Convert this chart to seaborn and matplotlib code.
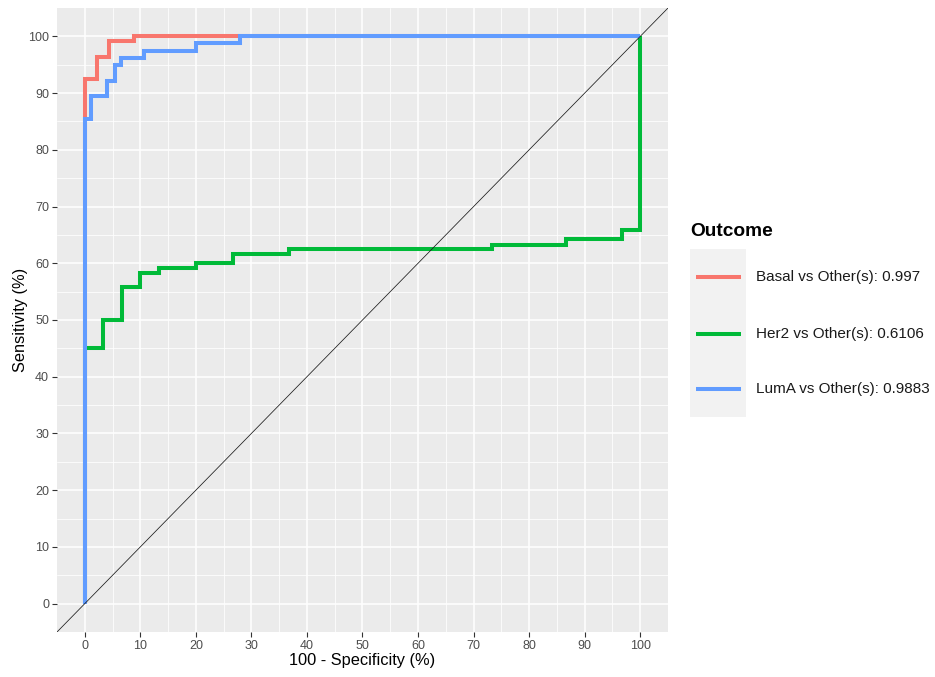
import matplotlib
matplotlib.use("Agg")
import matplotlib.pyplot as plt
import numpy as np
import pandas as pd
import seaborn as sns
from matplotlib.lines import Line2D
from matplotlib.patches import Rectangle
from matplotlib.ticker import FixedLocator

# ROC curve vertices (100 - specificity, sensitivity), in percent
basal_fpr = [0, 0, 2.2, 2.2, 4.4, 4.4, 8.9, 8.9, 100]
basal_tpr = [0, 92.5, 92.5, 96.3, 96.3, 99.2, 99.2, 100, 100]

her2_fpr = [0, 0, 3.3, 3.3, 6.7, 6.7, 10.0, 10.0, 13.3, 13.3, 20.0, 20.0,
            26.7, 26.7, 36.7, 36.7, 73.3, 73.3, 86.7, 86.7, 96.7, 96.7, 100, 100]
her2_tpr = [0, 45.0, 45.0, 50.0, 50.0, 55.8, 55.8, 58.3, 58.3, 59.2, 59.2, 60.0,
            60.0, 61.7, 61.7, 62.5, 62.5, 63.3, 63.3, 64.2, 64.2, 65.8, 65.8, 100]

luma_fpr = [0, 0, 1.2, 1.2, 4.0, 4.0, 5.4, 5.4, 6.6, 6.6, 10.7, 10.7,
            20.1, 20.1, 28.0, 28.0, 100]
luma_tpr = [0, 85.5, 85.5, 89.4, 89.4, 92.1, 92.1, 94.9, 94.9, 96.2, 96.2, 97.5,
            97.5, 98.8, 98.8, 100, 100]

outcomes = ["Basal vs Other(s): 0.997",
            "Her2 vs Other(s): 0.6106",
            "LumA vs Other(s): 0.9883"]
colors = ["#F8766D", "#00BA38", "#619CFF"]

x_ticks = list(range(0, 101, 10))
y_ticks = list(range(0, 101, 10))

frames = []
for name, fx, ty in zip(outcomes, [basal_fpr, her2_fpr, luma_fpr],
                        [basal_tpr, her2_tpr, luma_tpr]):
    frames.append(pd.DataFrame({"fpr": fx, "tpr": ty, "Outcome": name}))
df = pd.concat(frames, ignore_index=True)

sns.set_theme(style="darkgrid")
plt.rcParams["font.family"] = ["Liberation Sans", "DejaVu Sans"]

W, H = 935, 677
fig = plt.figure(figsize=(W / 100, H / 100), dpi=100)
ax = fig.add_axes([57 / W, 1 - 632 / H, 611 / W, 624 / H])
ax.set_facecolor("#EBEBEB")

sns.lineplot(data=df, x="fpr", y="tpr", hue="Outcome", hue_order=outcomes,
             palette=colors, sort=False, estimator=None, linewidth=2.9,
             legend=False, ax=ax)
for ln in ax.lines:
    ln.set_solid_capstyle("butt")
    ln.set_solid_joinstyle("miter")

# chance diagonal
ax.axline((0, 0), (100, 100), color="#1A1A1A", lw=0.55, zorder=3)

ax.set_xlim(-5, 105)
ax.set_ylim(-5, 105)
ax.xaxis.set_major_locator(FixedLocator(x_ticks))
ax.yaxis.set_major_locator(FixedLocator(y_ticks))
ax.xaxis.set_minor_locator(FixedLocator([t + 5 for t in x_ticks[:-1]]))
ax.yaxis.set_minor_locator(FixedLocator([t + 5 for t in y_ticks[:-1]]))
ax.grid(which="major", color="white", lw=1.1)
ax.grid(which="minor", color="white", lw=0.55)
ax.set_axisbelow(True)
for s in ax.spines.values():
    s.set_visible(False)

ax.tick_params(which="major", length=3.5, width=0.8, color="#333333",
               labelsize=9, labelcolor="#4D4D4D", pad=2.2, bottom=True, left=True)
ax.tick_params(which="minor", length=0)

ax.set_xlabel("100 - Specificity (%)", fontsize=11.8, color="black", va="center")
ax.set_ylabel("Sensitivity (%)", fontsize=11.8, color="black", va="center")
ax.xaxis.set_label_coords((362 - 57) / 611, (632 - 661) / 624)
ax.yaxis.set_label_coords((20 - 57) / 611, 0.5)

# legend
fig.text(690 / W, 1 - 232 / H, "Outcome", fontsize=13.8, fontweight="bold",
         ha="left", va="center", color="black")
fig.add_artist(Rectangle((690 / W, 1 - 417 / H), 56 / W, 168 / H,
                         transform=fig.transFigure, facecolor="#F2F2F2",
                         edgecolor="none"))
for yk, name, c in zip([277, 334, 389], outcomes, colors):
    fig.add_artist(Line2D([696 / W, 741 / W], [1 - yk / H, 1 - yk / H],
                          transform=fig.transFigure, color=c, lw=2.9,
                          solid_capstyle="butt"))
    fig.text(756 / W, 1 - yk / H, name, fontsize=11, ha="left", va="center",
             color="#1A1A1A")

fig.savefig("out.png", dpi=100, facecolor="white")
